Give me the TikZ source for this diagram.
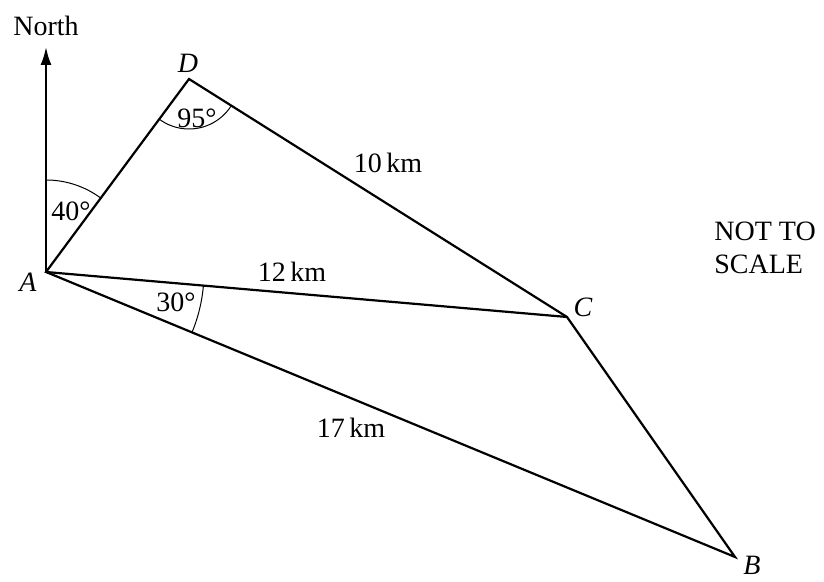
\documentclass[tikz,border=0pt]{standalone}
\usepackage{fontspec}
\setmainfont{Liberation Serif}
\usetikzlibrary{arrows.meta,calc}

\begin{document}
\begin{tikzpicture}[x=0.5pt, y=0.5pt,
  side/.style={line width=1.1pt, line join=miter},
  angarc/.style={line width=0.5pt},
  lbl/.style={font=\fontsize{14}{16.5}\selectfont, inner sep=0pt},
  pt/.style={font=\fontsize{14}{16.5}\selectfont\itshape, inner sep=0pt}]
  \useasboundingbox (0,0) rectangle (824,582);

  %% Points
  \coordinate (A) at (46,310);
  \coordinate (D) at (189,503);
  \coordinate (C) at (567,265);
  \coordinate (B) at (735,25);
  \coordinate (N) at (46,535);

  %% North line
  \draw[side, -{Latex[length=9pt, width=5.5pt]}] (A) -- (N);
  \node[lbl] (north) at (46,556) {North};

  %% Quadrilateral
  \draw[side] (A) -- (D) -- (C) -- (B) -- cycle;
  \draw[side] (A) -- (C);

  %% Angle marks
  \draw[angarc] ($(A)+(90:92)$) arc[start angle=90, end angle=53.5, radius=92];
  \draw[angarc] ($(D)+(233.5:50)$) arc[start angle=233.5, end angle=327.8, radius=50];
  \draw[angarc] ($(A)+(-22.5:158)$) arc[start angle=-22.5, end angle=-4.9, radius=158];

  %% Point labels
  \node[pt] (lA) at (28,300) {A};
  \node[pt] (lB) at (752,17) {B};
  \node[pt] (lC) at (583,275) {C};
  \node[pt] (lD) at (188,519) {D};

  %% Angles and lengths
  \node[lbl] (a40) at (71,371) {40°};
  \node[lbl] (a95) at (197,464) {95°};
  \node[lbl] (a30) at (176,280) {30°};
  \node[lbl] (dc) at (388,419) {10\,km};
  \node[lbl] (ac) at (292,310) {12\,km};
  \node[lbl] (ab) at (351,154) {17\,km};

  %% Note
  \node[lbl, anchor=west, align=left] (note) at (714,334) {NOT TO\\SCALE};
\end{tikzpicture}
\end{document}
